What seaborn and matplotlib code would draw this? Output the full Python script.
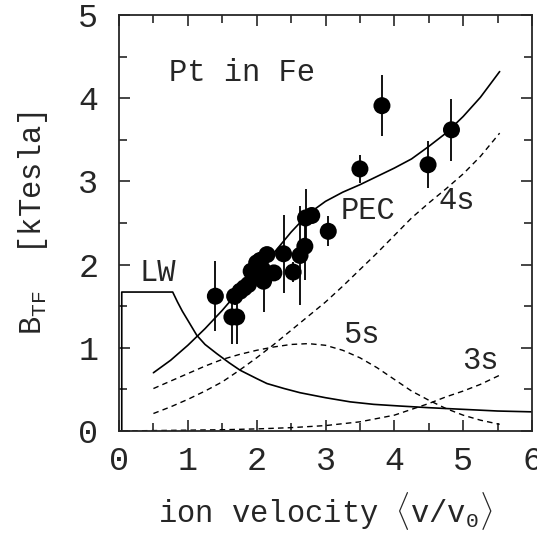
import numpy as np
import pandas as pd
import matplotlib
matplotlib.use('Agg')
import matplotlib.pyplot as plt
import seaborn as sns

# measured points: ion velocity <v/v0>, B_TF [kTesla], error
vel = [1.40, 1.68, 1.64, 1.71, 1.76, 1.82, 1.88, 1.92, 1.98, 2.00, 2.05, 2.08,
       2.10, 2.15, 2.25, 2.39, 2.53, 2.63, 2.70, 2.71, 2.80, 3.04, 3.50, 3.82,
       4.49, 4.83]
btf = [1.62, 1.62, 1.37, 1.37, 1.68, 1.72, 1.76, 1.92, 1.90, 2.02, 2.05, 1.95,
       1.80, 2.12, 1.90, 2.13, 1.91, 2.11, 2.22, 2.56, 2.59, 2.40, 3.15, 3.91,
       3.20, 3.62]
err = [0.42, 0.10, 0.33, 0.33, 0.0, 0.0, 0.0, 0.0, 0.0, 0.0, 0.0, 0.0,
       0.37, 0.0, 0.0, 0.47, 0.12, 0.60, 0.40, 0.35, 0.0, 0.18, 0.17, 0.37,
       0.28, 0.37]

# model curves
v_curve = [0.5, 0.75, 1.0, 1.25, 1.5, 1.75, 2.0, 2.25, 2.5, 2.75, 3.0, 3.25,
           3.5, 3.75, 4.0, 4.25, 4.5, 4.75, 5.0, 5.25, 5.53]
pec = [0.70, 0.85, 1.03, 1.23, 1.45, 1.69, 1.92, 2.14, 2.39, 2.61, 2.76, 2.87,
       2.96, 3.06, 3.16, 3.27, 3.42, 3.58, 3.78, 4.01, 4.32]
s4 = [0.21, 0.29, 0.38, 0.48, 0.59, 0.73, 0.88, 1.04, 1.21, 1.38, 1.55, 1.74,
      1.94, 2.14, 2.35, 2.56, 2.74, 2.91, 3.09, 3.30, 3.58]
s5 = [0.51, 0.60, 0.69, 0.78, 0.86, 0.92, 0.97, 1.01, 1.04, 1.05, 1.03, 0.97,
      0.88, 0.76, 0.62, 0.48, 0.37, 0.27, 0.19, 0.13, 0.08]

v_3s = [0.05, 0.5, 1.0, 1.5, 2.0, 2.5, 3.0, 3.5, 4.0, 4.25, 4.5, 4.75, 5.0,
        5.25, 5.53]
s3 = [0.0, 0.005, 0.01, 0.015, 0.025, 0.04, 0.065, 0.11, 0.19, 0.26, 0.33,
      0.41, 0.48, 0.56, 0.67]

v_lw = [0.04, 0.04, 0.78, 0.85, 0.92, 1.0, 1.13, 1.25, 1.42, 1.6, 1.76, 2.0,
        2.15, 2.4, 2.63, 3.0, 3.36, 3.7, 4.08, 4.5, 5.0, 5.5, 6.0]
lw = [0.0, 1.67, 1.67, 1.55, 1.44, 1.33, 1.15, 1.04, 0.93, 0.82, 0.73, 0.63,
      0.57, 0.51, 0.46, 0.40, 0.35, 0.32, 0.30, 0.28, 0.26, 0.24, 0.23]

sns.set_style('ticks')
plt.rcParams['font.family'] = ['Liberation Mono', 'DejaVu Sans Mono', 'DejaVu Sans']
plt.rcParams['mathtext.fontset'] = 'custom'
plt.rcParams['mathtext.rm'] = 'Liberation Mono'
plt.rcParams['mathtext.it'] = 'Liberation Mono'

fig = plt.figure(figsize=(5.37, 5.39), dpi=100)
ax = fig.add_axes([0.2216, 0.2004, 0.7691, 0.7718])

pts = pd.DataFrame({'v': vel, 'b': btf, 'e': err})
ax.errorbar(pts['v'], pts['b'], yerr=pts['e'], fmt='none', ecolor='black',
            elinewidth=1.3, capsize=0)
sns.scatterplot(data=pts, x='v', y='b', color='black', s=150, edgecolor='none',
                ax=ax, zorder=3)

dash = (0, (4, 3))
sns.lineplot(x=v_curve, y=pec, color='black', lw=1.2, sort=False, estimator=None, ax=ax)
sns.lineplot(x=v_curve, y=s4, color='black', lw=1.0, ls=dash, sort=False,
             estimator=None, ax=ax)
sns.lineplot(x=v_curve, y=s5, color='black', lw=1.0, ls=dash, sort=False,
             estimator=None, ax=ax)
sns.lineplot(x=v_3s, y=s3, color='black', lw=1.0, ls=dash, sort=False,
             estimator=None, ax=ax)
sns.lineplot(x=v_lw, y=lw, color='black', lw=1.2, sort=False, estimator=None, ax=ax)

fs = 22
ax.text(0.72, 4.3, 'Pt in Fe', fontsize=fs, va='center', ha='left')
ax.text(0.30, 1.9, 'LW', fontsize=fs, va='center', ha='left')
ax.text(3.22, 2.65, 'PEC', fontsize=fs, va='center', ha='left')
ax.text(4.64, 2.76, '4s', fontsize=fs, va='center', ha='left')
ax.text(3.25, 1.15, '5s', fontsize=fs, va='center', ha='left')
ax.text(4.98, 0.84, '3s', fontsize=fs, va='center', ha='left')

ax.set_xlim(0, 6)
ax.set_ylim(0, 5)
ax.set_xticks(range(0, 7))
ax.set_yticks(range(0, 6))
ax.set_xticks(np.arange(0.5, 6, 1.0), minor=True)
ax.set_yticks(np.arange(0.5, 5, 1.0), minor=True)
ax.tick_params(which='both', direction='in', top=True, right=True, width=1.2)
ax.tick_params(which='major', length=8, labelsize=24)
ax.tick_params(which='minor', length=6)
ax.tick_params(axis='x', which='major', pad=11)
ax.tick_params(axis='y', which='major', pad=15)
for sp in ax.spines.values():
    sp.set_linewidth(1.3)

ax.set_xlabel('ion velocity $\\langle$v/v$_0$$\\rangle$', fontsize=fs, labelpad=9)
ax.set_ylabel('B$_\\mathrm{TF}$  [kTesla]', fontsize=fs, labelpad=20)

fig.savefig('out.png', dpi=100)
